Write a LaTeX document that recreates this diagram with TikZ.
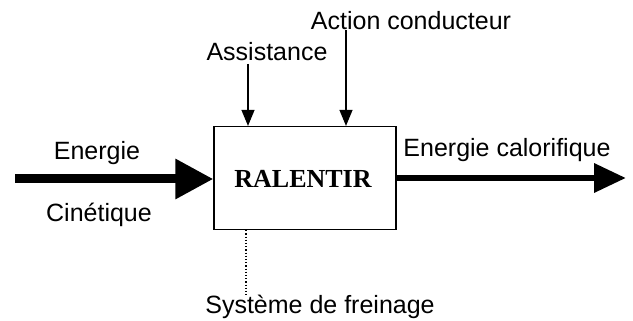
\documentclass[tikz,border=0pt]{standalone}
\usepackage{fontspec}
\setmainfont{Liberation Sans}
\newfontfamily\timesf{Liberation Serif}
\usetikzlibrary{arrows.meta}
\begin{document}
\begin{tikzpicture}[x=1pt,y=-1pt,
  lbl/.style={font=\fontsize{25}{27}\selectfont, inner sep=0pt, anchor=base},
  thin arrow/.style={line width=1.2pt, -{Triangle[length=16pt,width=13pt]}},
  big arrow/.style={line width=9pt, -{Triangle[length=38pt,width=38pt]}},
  mid arrow/.style={line width=6.5pt, -{Triangle[length=32pt,width=28pt]}}]
\useasboundingbox (0,0) rectangle (633,321);
\node[draw, line width=1.2pt, minimum width=182pt, minimum height=103pt, inner sep=0pt] (box) at (305,178) {};
\node[font=\timesf\bfseries\fontsize{26}{28}\selectfont, inner sep=0pt, anchor=base] (title) at (303,188) {RALENTIR};
\coordinate (inL) at (15,179);
\coordinate (outR) at (626,178);
\coordinate (assT) at (248,64);
\coordinate (actT) at (346,30);
\coordinate (sysB) at (246,296);
\draw[big arrow] (inL) -- (inL -| box.west);
\draw[mid arrow] (outR -| box.east) -- (outR);
\draw[thin arrow] (assT) -- (assT |- box.north);
\draw[thin arrow] (actT) -- (actT |- box.north);
\draw[line width=1.2pt, dotted] (sysB |- box.south) -- (sysB);
\node[lbl] (t1) at (97,160) {Energie};
\node[lbl] (t2) at (99,222) {Cinétique};
\node[lbl] (t3) at (267,61) {Assistance};
\node[lbl] (t4) at (411,30) {Action conducteur};
\node[lbl] (t5) at (507,157) {Energie calorifique};
\node[lbl] (t6) at (320,313) {Système de freinage};
\end{tikzpicture}
\end{document}
